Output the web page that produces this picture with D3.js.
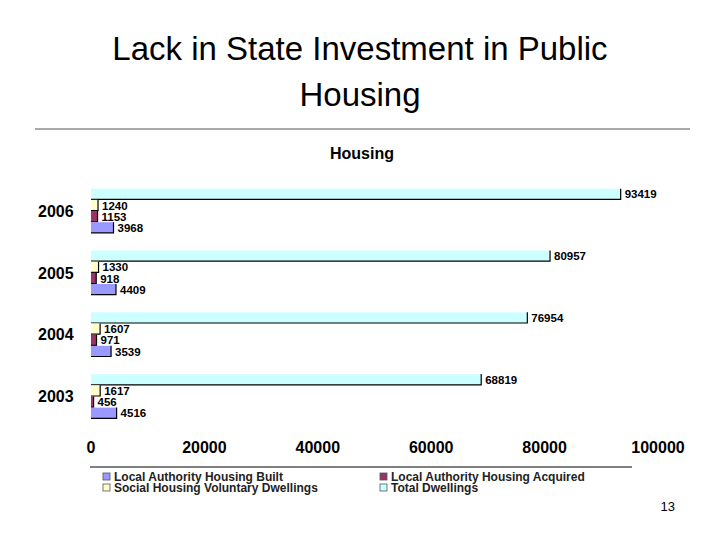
<!DOCTYPE html>
<html><head><meta charset="utf-8">
<script src="https://cdn.jsdelivr.net/npm/d3@7"></script>
<style>body{margin:0;background:#fff}</style>
</head><body>
<svg id="c" width="720" height="540"></svg>
<script>
const years = ["2006","2005","2004","2003"];
const seriesNames = ["Total Dwellings","Social Housing  Voluntary Dwellings","Local Authority Housing Acquired","Local Authority Housing Built"];
const totalDwellings = [93419,80957,76954,68819];
const voluntary = [1240,1330,1607,1617];
const acquired = [1153,918,971,456];
const built = [3968,4409,3539,4516];
const ticks = [0,20000,40000,60000,80000,100000];
const colors = ["#ccffff","#ffffcc","#993366","#9999ff"];
const values = [totalDwellings, voluntary, acquired, built];

const svg = d3.select("#c");
const F = "Arial, 'Liberation Sans', sans-serif";
svg.append("text").attr("x",360).attr("y",60).attr("text-anchor","middle").attr("font-family",F).attr("font-size",33).text("Lack in State Investment in Public");
svg.append("text").attr("x",360).attr("y",106).attr("text-anchor","middle").attr("font-family",F).attr("font-size",33).text("Housing");
svg.append("line").attr("x1",35).attr("x2",690).attr("y1",129).attr("y2",129).attr("stroke","#555");
svg.append("text").attr("x",362).attr("y",159).attr("text-anchor","middle").attr("font-family",F).attr("font-weight","bold").attr("font-size",16).text("Housing");

const x = d3.scaleLinear().domain([0,100000]).range([91,658]);
const y = d3.scaleBand().domain(years).range([187,420]).paddingInner(0.27).paddingOuter(0.02);
const sub = d3.scaleBand().domain(d3.range(4)).range([0,y.bandwidth()]).padding(0.04);

years.forEach((yr,i)=>{
  const g = svg.append("g");
  g.append("text").attr("x",38).attr("y",y(yr)+y.bandwidth()/2+6).attr("font-family",F).attr("font-weight","bold").attr("font-size",16).text(yr);
  values.forEach((arr,s)=>{
    const v = arr[i], by = y(yr)+sub(s), h = sub.bandwidth();
    g.append("rect").attr("x",x(0)).attr("y",by).attr("width",x(v)-x(0)).attr("height",h).attr("fill",colors[s]);
    g.append("path").attr("d",`M${x(0)},${by+h}H${x(v)}V${by}`).attr("fill","none").attr("stroke","#000").attr("stroke-width",1.2);
    g.append("text").attr("x",x(v)+4).attr("y",by+h-1).attr("font-family",F).attr("font-weight","bold").attr("font-size",11.5).text(v);
  });
});

svg.append("g").selectAll("text").data(ticks).join("text")
  .attr("x",d=>x(d)).attr("y",453).attr("text-anchor","middle").attr("font-family",F).attr("font-weight","bold").attr("font-size",16).text(d=>d);

svg.append("line").attr("x1",90).attr("x2",632).attr("y1",467).attr("y2",467).attr("stroke","#000");
const leg = [["Local Authority Housing Built",3,103,481],["Local Authority Housing Acquired",2,380,481],["Social Housing  Voluntary Dwellings",1,103,492],["Total Dwellings",0,380,492]];
leg.forEach(([t,s,lx,ly])=>{
  svg.append("rect").attr("x",lx).attr("y",ly-8).attr("width",7).attr("height",7).attr("fill",colors[s]).attr("stroke","#555").attr("stroke-width",0.8);
  svg.append("text").attr("x",lx+11).attr("y",ly).attr("font-family",F).attr("font-weight","bold").attr("font-size",12).attr("fill","#222").text(t);
});
svg.append("text").attr("x",675).attr("y",511).attr("text-anchor","end").attr("font-family",F).attr("font-size",13).text("13");
</script>
</body></html>
